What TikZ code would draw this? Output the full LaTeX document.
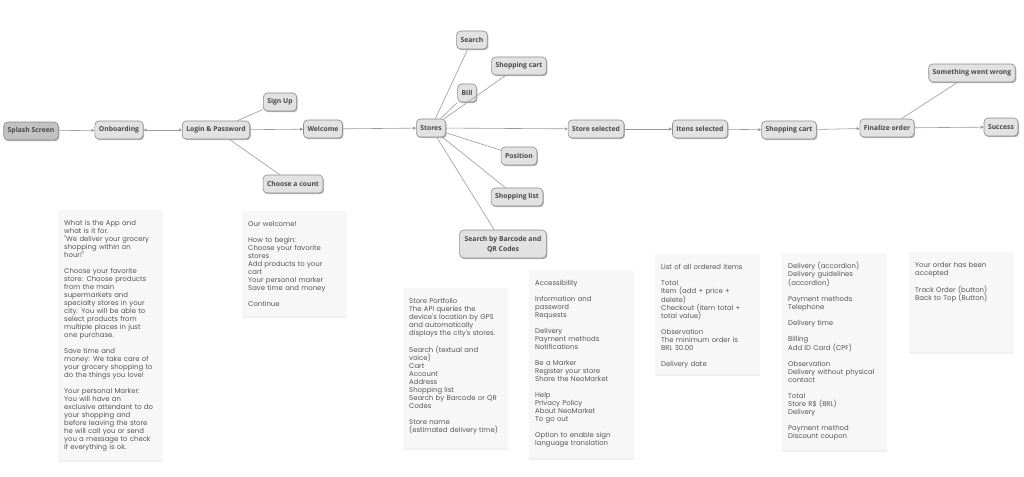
\documentclass[tikz,border=0pt]{standalone}
\usepackage{fontspec}
\setmainfont{Open Sans}
\newfontfamily\cardfont{Poppins}
\usetikzlibrary{arrows.meta}
\usetikzlibrary{shadows}
\definecolor{boxfill}{HTML}{E2E2E2}
\definecolor{startfill}{HTML}{C2C2C2}
\definecolor{boxdraw}{HTML}{8C8C8C}
\definecolor{boxtext}{HTML}{474747}
\definecolor{cardfill}{HTML}{F7F7F7}
\definecolor{cardtext}{HTML}{555555}
\definecolor{wire}{HTML}{9A9A9A}

\begin{document}
\begin{tikzpicture}[x=1pt,y=-1pt]
    \tikzstyle{screen} = [draw=boxdraw, fill=boxfill, rounded corners=4pt, line width=0.6pt, minimum height=18pt, inner xsep=4pt, inner ysep=2pt, align=center, text=boxtext, font=\fontsize{6.8}{10}\selectfont\bfseries, drop shadow={shadow xshift=1pt, shadow yshift=-1.2pt, fill=black, opacity=0.3}];
    \tikzstyle{card} = [fill=cardfill, anchor=north west, text width=93pt, inner xsep=6pt, inner ysep=10pt, align=left, text height=5pt, text=cardtext, font=\cardfont\fontsize{6.9}{8}\selectfont, drop shadow={shadow xshift=0pt, shadow yshift=-2pt, fill=black, opacity=0.06}];
    \tikzstyle{line} = [draw=wire, line width=0.6pt, -{Triangle[length=3pt,width=3pt]}];
    \tikzstyle{branch} = [draw=wire, line width=0.6pt];
    \useasboundingbox (0,0) rectangle (1024,476);

    \node[screen, fill=startfill] (splash) at (31,131) {Splash Screen};
    \node[screen] (onboard) at (119,130) {Onboarding};
    \node[screen] (login) at (216,130) {Login \& Password};
    \node[screen] (signup) at (280,102) {Sign Up};
    \node[screen] (count) at (293,184) {Choose a count};
    \node[screen] (welcome) at (323,129) {Welcome};
    \node[screen] (stores) at (431,128) {Stores};
    \node[screen] (search) at (472,40) {Search};
    \node[screen] (cart) at (519,66) {Shopping cart};
    \node[screen] (bill) at (467,93) {Bill};
    \node[screen] (position) at (519,156) {Position};
    \node[screen] (list) at (517,197) {Shopping list};
    \node[screen, minimum height=28pt, inner xsep=5pt] (barcode) at (503,244) {Search by Barcode and\\QR Codes};
    \node[screen] (storesel) at (596,129) {Store selected};
    \node[screen] (itens) at (700,129) {Itens selected};
    \node[screen] (cart2) at (789,130) {Shopping cart};
    \node[screen] (final) at (887,128) {Finalize order};
    \node[screen] (wrong) at (972,73) {Something went wrong};
    \node[screen] (success) at (1001,127) {Success};

    \node[card, text depth=225pt] (infoonboard) at (58,210) {What is the App and\\what is it for.\\"We deliver your grocery\\shopping within an\\hour!"\\[8pt]Choose your favorite\\store: Choose products\\from the main\\supermarkets and\\specialty stores in your\\city. You will be able to\\select products from\\multiple places in just\\one purchase.\\[8pt]Save time and\\money: We take care of\\your grocery shopping to\\do the things you love!\\[8pt]Your personal Marker:\\You will have an\\exclusive attendant to do\\your shopping and\\before leaving the store\\he will call you or send\\you a message to check\\if everything is ok.};
    \node[card, text depth=80pt] (infowelcome) at (242,211) {Our welcome!\\[8pt]How to begin:\\Choose your favorite\\stores\\Add products to your\\cart\\Your personal marker\\Save time and money\\[8pt]Continue};
    \node[card, text depth=135pt] (infostores) at (403,288) {Store Portfolio\\The API queries the\\device's location by GPS\\and automatically\\displays the city's stores.\\[8pt]Search (textual and\\voice)\\Cart\\Account\\Address\\Shopping list\\Search by Barcode or QR\\Codes\\[8pt]Store name\\(estimated delivery time)};
    \node[card, text depth=163pt] (infoaccess) at (529,270) {Accessibility\\[8pt]Information and\\password\\Requests\\[8pt]Delivery\\Payment methods\\Notifications\\[8pt]Be a Marker\\Register your store\\Share the NeoMarket\\[8pt]Help\\Privacy Policy\\About NeoMarket\\To go out\\[8pt]Option to enable sign\\language translation};
    \node[card, text depth=95pt] (infocart) at (655,254) {List of all ordered items\\[8pt]Total\\Item (add + price +\\delete)\\Checkout (item total +\\total value)\\[8pt]Observation\\The minimum order is\\BRL 30.00\\[8pt]Delivery date};
    \node[card, text depth=172pt] (infofinal) at (782,253) {Delivery (accordion)\\Delivery guidelines\\(accordion)\\[8pt]Payment methods\\Telephone\\[8pt]Delivery time\\[8pt]Billing\\Add ID Card (CPF)\\[8pt]Observation\\Delivery without physical\\contact\\[8pt]Total\\Store R\$ (BRL)\\Delivery\\[8pt]Payment method\\Discount coupon};
    \node[card, text depth=75pt] (infosuccess) at (909,252) {Your order has been\\accepted\\[8pt]Track Order (button)\\Back to Top (Button)};

    \path[line] (splash) -- (onboard);
    \path[line, {Triangle[length=3pt,width=3pt]}-{Triangle[length=3pt,width=3pt]}] (onboard) -- (login);
    \path[line] (login) -- (welcome);
    \path[branch] (login) -- (signup);
    \path[branch] (login) -- (count);
    \path[line] (welcome) -- (stores);
    \path[branch] (stores) -- (search);
    \path[branch] (stores) -- (cart);
    \path[branch] (stores) -- (bill);
    \path[branch] (stores) -- (position);
    \path[branch] (stores) -- (list);
    \path[branch] (stores) -- (barcode);
    \path[line] (stores) -- (storesel);
    \path[line] (storesel) -- (itens);
    \path[line] (itens) -- (cart2);
    \path[line] (cart2) -- (final);
    \path[branch] (final) -- (wrong);
    \path[line] (final) -- (success);
\end{tikzpicture}
\end{document}
